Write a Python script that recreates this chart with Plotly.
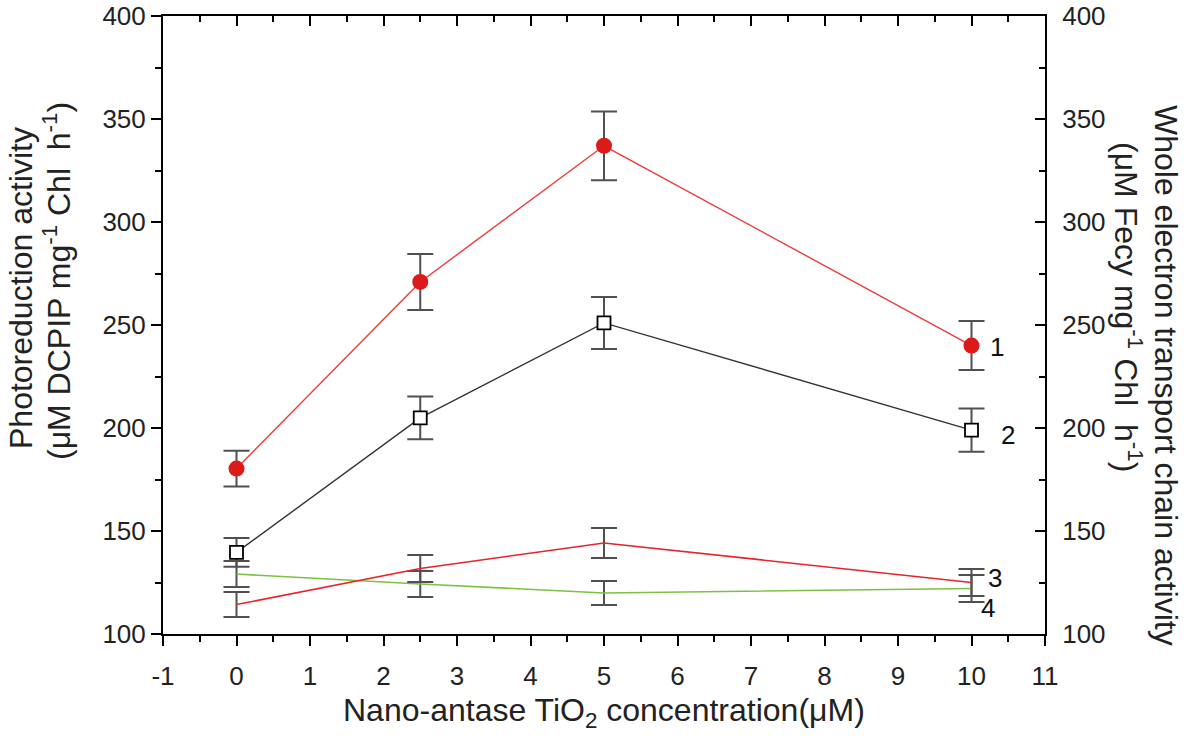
import plotly.graph_objects as go

# ---- data ----
conc = [0, 2.5, 5, 10]
s1_vals = [180.3, 270.9, 337.0, 240.0]
s1_err = [8.7, 13.6, 16.7, 11.9]
s2_vals = [139.6, 204.9, 251.0, 199.0]
s2_err = [7.0, 10.4, 12.6, 10.5]
s3_vals = [114.3, 131.8, 144.2, 125.0]
s3_err = [6.1, 6.6, 7.3, 6.6]
s4_vals = [129.1, 124.3, 119.9, 122.1]
s4_err = [6.3, 6.3, 5.8, 6.6]
x_tickvals = [-1, 0, 1, 2, 3, 4, 5, 6, 7, 8, 9, 10, 11]
x_ticktext = ["-1", "0", "1", "2", "3", "4", "5", "6", "7", "8", "9", "10", "11"]
y_tickvals = [100, 150, 200, 250, 300, 350, 400]
curve_labels = ["1", "2", "3", "4"]
label_x = [10.35, 10.5, 10.32, 10.22]
label_y = [239.5, 196.5, 127.2, 112.6]

FONT = "Liberation Sans, Arial, sans-serif"
W, H = 1189, 736
L, R, T, B = 163, 144, 16, 102
pw, ph = W - L - R, H - T - B


def px_x(X):
    return (X - L) / pw


def px_y(Y):
    return 1 - (Y - T) / ph


err_style = dict(type="data", thickness=2, width=13, color="#505050")

fig = go.Figure()
fig.add_trace(go.Scatter(x=conc, y=s4_vals, mode="lines",
                         line=dict(color="#7cc242", width=1.6),
                         error_y=dict(array=s4_err, **err_style), showlegend=False))
fig.add_trace(go.Scatter(x=conc, y=s3_vals, mode="lines",
                         line=dict(color="#e8242a", width=1.6),
                         error_y=dict(array=s3_err, **err_style), showlegend=False))
fig.add_trace(go.Scatter(x=conc, y=s2_vals, mode="lines+markers",
                         line=dict(color="#333333", width=1.4),
                         marker=dict(symbol="square", size=13, color="white",
                                     line=dict(color="black", width=1.8)),
                         error_y=dict(array=s2_err, **err_style), showlegend=False))
fig.add_trace(go.Scatter(x=conc, y=s1_vals, mode="lines+markers",
                         line=dict(color="#ee3b3b", width=1.4),
                         marker=dict(symbol="circle", size=16, color="#dd1a1a"),
                         error_y=dict(array=s1_err, **err_style), showlegend=False))
# helper trace for mirrored axes
fig.add_trace(go.Scatter(x=[-1, 11], y=[100, 400], xaxis="x2", yaxis="y2",
                         mode="markers", marker=dict(opacity=0), hoverinfo="skip",
                         showlegend=False))

for lab, lx, ly in zip(curve_labels, label_x, label_y):
    fig.add_annotation(x=lx, y=ly, text=lab, showarrow=False, xanchor="center",
                       yanchor="middle", font=dict(family=FONT, size=26, color="#111"))

tickfont = dict(family=FONT, size=26, color="#222")
common = dict(showline=True, linecolor="black", linewidth=2, showgrid=False,
              zeroline=False, automargin=False, tickcolor="black", tickwidth=1.5,
              ticklen=10)
fig.update_layout(
    width=W, height=H, margin=dict(l=L, r=R, t=T, b=B, autoexpand=False),
    paper_bgcolor="white", plot_bgcolor="white",
    xaxis=dict(range=[-1, 11], tickmode="array", tickvals=x_tickvals,
               ticktext=x_ticktext, ticks="outside", tickfont=tickfont,
               ticklabelstandoff=8,
               minor=dict(dtick=0.5, ticks="outside", ticklen=6, tickcolor="black",
                          tickwidth=1.5, showgrid=False), **common),
    yaxis=dict(range=[100, 400], tickmode="array", tickvals=y_tickvals,
               ticks="outside", tickfont=tickfont,
               minor=dict(dtick=25, ticks="outside", ticklen=6, tickcolor="black",
                          tickwidth=1.5, showgrid=False), **common),
    xaxis2=dict(range=[-1, 11], overlaying="x", side="top", dtick=1, tick0=-1,
                ticks="inside", showticklabels=False,
                minor=dict(dtick=0.5, ticks="inside", ticklen=6, tickcolor="black",
                           tickwidth=1.5, showgrid=False), **common),
    yaxis2=dict(range=[100, 400], overlaying="y", side="right", tickmode="array",
                tickvals=y_tickvals, ticks="inside", tickfont=tickfont,
                ticklabelstandoff=10,
                minor=dict(dtick=25, ticks="inside", ticklen=6, tickcolor="black",
                           tickwidth=1.5, showgrid=False), **common),
)

title_font = dict(family=FONT, size=32, color="#222")
fig.add_annotation(xref="paper", yref="paper", x=px_x(604), y=px_y(712),
                   text="Nano-antase TiO<sub>2</sub> concentration(μM)", showarrow=False,
                   xanchor="center", yanchor="middle",
                   font=dict(family=FONT, size=32, color="#222"))
fig.add_annotation(xref="paper", yref="paper", x=px_x(21), y=px_y(288),
                   text="Photoreduction activity", textangle=-90, showarrow=False,
                   xanchor="center", yanchor="middle", font=title_font)
fig.add_annotation(xref="paper", yref="paper", x=px_x(57), y=px_y(281),
                   text="(μM DCPIP mg<sup>-1</sup> Chl  h<sup>-1</sup>)", textangle=-90,
                   showarrow=False, xanchor="center", yanchor="middle", font=title_font)
fig.add_annotation(xref="paper", yref="paper", x=px_x(1166), y=px_y(375),
                   text="Whole electron transport chain activity", textangle=90,
                   showarrow=False, xanchor="center", yanchor="middle", font=title_font)
fig.add_annotation(xref="paper", yref="paper", x=px_x(1128), y=px_y(307),
                   text="(μM Fecy mg<sup>-1</sup> Chl  h<sup>-1</sup>)", textangle=90,
                   showarrow=False, xanchor="center", yanchor="middle", font=title_font)

fig.write_html("out.html")
